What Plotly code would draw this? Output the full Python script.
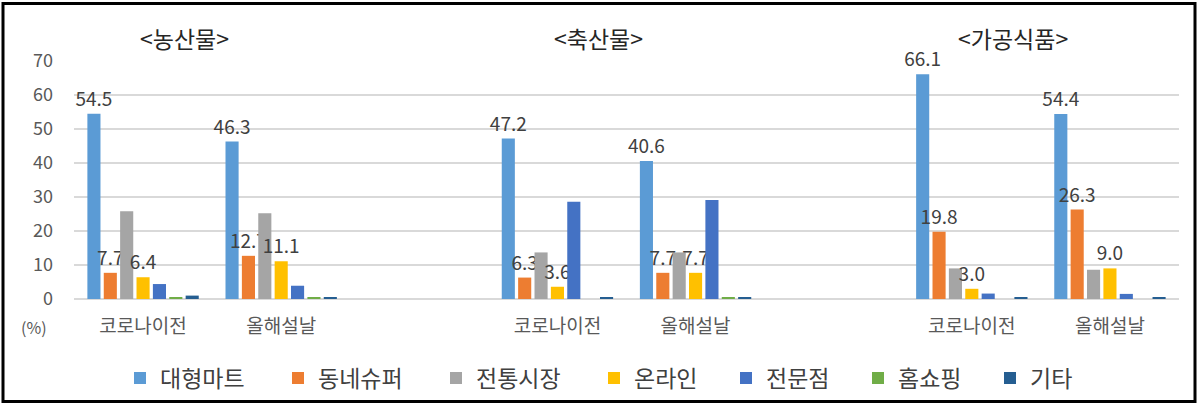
import plotly.graph_objects as go

# ---- data ----
groups = ["<농산물>", "<축산물>", "<가공식품>"]
periods = ["코로나이전", "올해설날"]
series = ["대형마트", "동네슈퍼", "전통시장", "온라인", "전문점", "홈쇼핑", "기타"]

# values per series, order: 농산물(코로나이전, 올해설날), 축산물(...), 가공식품(...)
v_mart    = [54.5, 46.3, 47.2, 40.6, 66.1, 54.4]
v_super   = [7.7, 12.7, 6.3, 7.7, 19.8, 26.3]
v_market  = [25.8, 25.2, 13.7, 13.7, 9.0, 8.6]
v_online  = [6.4, 11.1, 3.6, 7.7, 3.0, 9.0]
v_special = [4.4, 3.9, 28.6, 29.1, 1.6, 1.5]
v_home    = [0.3, 0.3, 0.0, 0.3, 0.0, 0.0]
v_etc     = [1.0, 0.4, 0.4, 0.4, 0.4, 0.4]

values = [v_mart, v_super, v_market, v_online, v_special, v_home, v_etc]
labelled = [True, True, False, True, False, False, False]
colors = ["#5B9BD5", "#ED7D31", "#A5A5A5", "#FFC000", "#4472C4", "#70AD47", "#255E91"]

yticks = [0, 10, 20, 30, 40, 50, 60, 70]

# category positions: each group has two periods followed by one empty slot
xpos = [g * (len(periods) + 1) + i for g in range(len(groups)) for i in range(len(periods))]
xlabels = [p for _ in groups for p in periods]

FONT = "Noto Sans CJK KR"

fig = go.Figure()
for name, vals, lab, col in zip(series, values, labelled, colors):
    fig.add_trace(go.Bar(
        x=xpos, y=vals, name=name,
        marker=dict(color=col, line=dict(width=0)),
        text=[f"{v:.1f}" for v in vals] if lab else None,
        textposition="outside" if lab else "none",
        textfont=dict(family=FONT, size=19, color="#404040"),
        constraintext="none",
        cliponaxis=False,
        legendwidth=26 * len(name) + 9,
    ))

W, H = 1200, 404
ml, mr, mt, mb = 74, 21, 61, 105
pw, ph = W - ml - mr, H - mt - mb

def px_x(p):
    return (p - ml) / pw

def px_y(p):
    return (H - mb - p) / ph

annotations = []
for g, title in enumerate(groups):
    cx = g * (len(periods) + 1) + (len(periods) - 1) / 2 - 0.2
    annotations.append(dict(
        x=cx, xref="x", y=px_y(38), yref="paper", text=title, showarrow=False,
        font=dict(family=FONT, size=23, color="#262626"), xanchor="center", yanchor="middle",
    ))
annotations.append(dict(
    x=px_x(34), xref="paper", y=px_y(327), yref="paper", text="(%)", showarrow=False,
    font=dict(family=FONT, size=16, color="#595959"), xanchor="center", yanchor="middle",
))

fig.update_layout(
    width=W, height=H,
    margin=dict(l=ml, r=mr, t=mt, b=mb, autoexpand=False),
    paper_bgcolor="white", plot_bgcolor="white",
    barmode="group", bargap=0.17, bargroupgap=0.2,
    showlegend=True,
    legend=dict(orientation="h", x=px_x(120), xanchor="left", y=px_y(378), yanchor="middle",
                font=dict(family=FONT, size=23, color="#404040"),
                itemwidth=30, traceorder="normal"),
    annotations=annotations,
    shapes=[dict(type="rect", xref="paper", yref="paper",
                 x0=px_x(3), x1=px_x(1195), y0=px_y(401.5), y1=px_y(3.5),
                 line=dict(color="black", width=3), layer="above")],
    font=dict(family=FONT),
)
fig.update_xaxes(
    range=[-0.5, xpos[-1] + 0.5],
    tickvals=xpos, ticktext=xlabels,
    tickfont=dict(family=FONT, size=19, color="#595959"),
    showgrid=False, zeroline=False, showline=False, ticks="",
    ticklabelstandoff=14,
)
fig.update_yaxes(
    range=[0, 70], tickvals=yticks,
    tickfont=dict(family=FONT, size=18, color="#595959"),
    showgrid=True, gridcolor="#D9D9D9", gridwidth=1.5,
    zeroline=True, zerolinecolor="#D9D9D9", zerolinewidth=1.5,
    showline=False, ticks="", ticklabelstandoff=20,
)

fig.write_html("out.html", config={"displayModeBar": False},
               post_script="document.body.style.margin='0';document.body.style.overflow='hidden';")
